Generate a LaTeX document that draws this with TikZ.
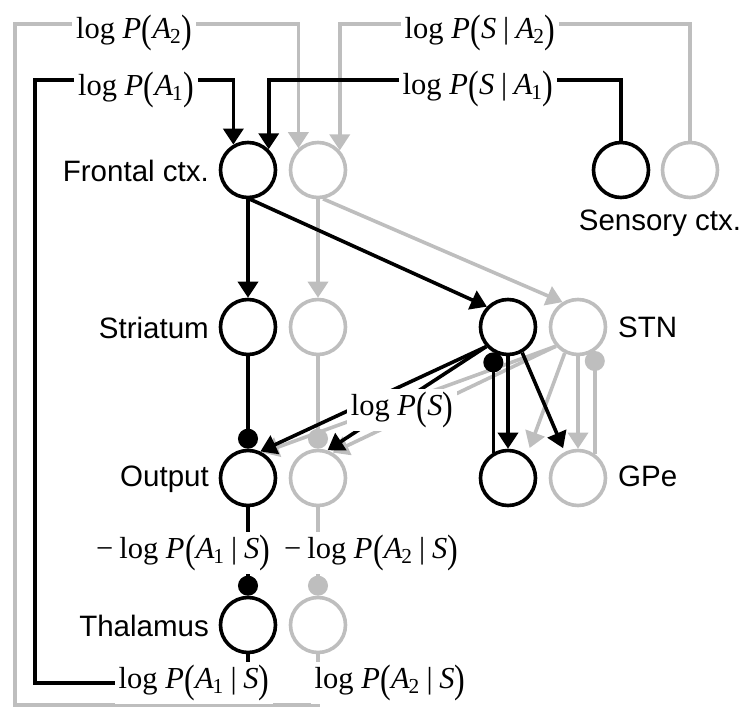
\documentclass[tikz,border=0pt]{standalone}
\usepackage{fontspec}
\usepackage{graphicx}
\setmainfont{Liberation Sans}
\newfontfamily\tim{Liberation Serif}
\usetikzlibrary{arrows.meta}
\definecolor{gry}{RGB}{190,190,190}
\newcommand{\Lpar}{\raisebox{-0.16em}{\scalebox{1.05}[1.3]{(}}}
\newcommand{\Rpar}{\raisebox{-0.16em}{\scalebox{1.05}[1.3]{)}}}
\newcommand{\cbar}{\hspace{0.22em}|\hspace{0.22em}}
\newcommand{\LogP}[1]{log\hspace{0.25em}\textit{P}\kern0.02em\Lpar#1\Rpar}
\newcommand{\Aone}{\textit{A}\kern-0.04em\textsubscript{1}}
\newcommand{\Atwo}{\textit{A}\kern-0.04em\textsubscript{2}}
\begin{document}
\begin{tikzpicture}[x=1pt,y=-1pt,
 neuron/.style={circle,draw,line width=3.6pt,minimum size=55pt,inner sep=0pt},
 bneuron/.style={neuron,draw=black},
 gneuron/.style={neuron,draw=gry},
 lab/.style={font=\fontsize{29.5}{32}\selectfont,inner sep=0pt},
 mlab/.style={font=\fontsize{30.5}{32}\selectfont\tim,fill=white,inner xsep=4pt,inner ysep=3pt,anchor=base},
 conn/.style={line width=3.6pt},
 blk/.style={conn,draw=black},
 gr/.style={conn,draw=gry},
 exc/.style={-{Triangle[length=16pt,width=20pt]}},
 inh/.style={-{Circle[length=20pt]}},
]
\useasboundingbox (0,0) rectangle (742,707);
% neurons
\node[bneuron] (frontB) at (248,170) {};
\node[gneuron] (frontG) at (318,170) {};
\node[bneuron] (senB) at (621,170) {};
\node[gneuron] (senG) at (690,170) {};
\node[bneuron] (striB) at (248,327) {};
\node[gneuron] (striG) at (318,327) {};
\node[bneuron] (stnB) at (508,327) {};
\node[gneuron] (stnG) at (578,327) {};
\node[bneuron] (outB) at (248,478) {};
\node[gneuron] (outG) at (318,478) {};
\node[bneuron] (gpeB) at (508,478) {};
\node[gneuron] (gpeG) at (578,478) {};
\node[bneuron] (thalB) at (248,625) {};
\node[gneuron] (thalG) at (318,625) {};
% area labels
\node[lab,anchor=east] (tFront) at (209,171) {Frontal ctx.};
\node[lab,anchor=east] (tStri) at (209,328) {Striatum};
\node[lab,anchor=east] (tOut) at (209,479) {Output};
\node[lab,anchor=east] (tThal) at (209,626) {Thalamus};
\node[lab,anchor=base west] (tStn) at (618,337) {STN};
\node[lab,anchor=base west] (tGpe) at (618,486) {GPe};
\node[lab,anchor=base] (tSen) at (660,230) {Sensory ctx.};
% bend points
\coordinate (gBL) at (15,705);
\coordinate (gTL) at (15,24);
\coordinate (gTR) at (690,24);
\coordinate (bBL) at (35,683);
\coordinate (bTL) at (35,80);
\coordinate (bTR) at (621,80);
% gray connectors
\draw[gr,exc] (thalG.south) |- (gBL) -- (gTL) -| (frontG.132);
\draw[gr,exc] (senG.north) -- (gTR) -| (frontG.42);
\draw[gr,exc] (frontG.south) -- (striG.north);
\draw[gr,exc] (frontG.-80) -- (stnG.122);
\draw[gr,inh] (striG.south) -- (outG.north);
\draw[gr,inh] (outG.south) -- (thalG.north);
\draw[gr,exc] (stnG.221) -- (outB.60);
\draw[gr,exc] (stnG.221) -- (outG.60);
\draw[gr,exc,shorten >=8pt] (stnG.-117) -- (gpeB.50);
\draw[gr,exc] (stnG.south) -- (gpeG.north);
\draw[gr,inh] (gpeG.55) -- (stnG.-55);
% black connectors
\draw[blk,exc] (thalB.south) |- (bBL) -- (bTL) -| (frontB.120);
\draw[blk,exc] (senB.north) -- (bTR) -| (frontB.45);
\draw[blk,exc] (frontB.south) -- (striB.north);
\draw[blk,exc] (frontB.-86) -- (stnB.136);
\draw[blk,inh] (striB.south) -- (outB.north);
\draw[blk,inh] (outB.south) -- (thalB.north);
\draw[blk,exc] (stnB.222) -- (outB.65);
\draw[blk,exc] (stnB.222) -- (outG.71);
\draw[blk,inh] (gpeB.120) -- (stnB.-120);
\draw[blk,exc] (stnB.south) -- (gpeB.north);
\draw[blk,exc,shorten >=4pt] (stnB.-61) -- (gpeG.117);
% formula labels
\node[mlab] (lA2) at (134,38) {\LogP{\Atwo}};
\node[mlab] (lA1) at (136,95) {\LogP{\Aone}};
\node[mlab] (lSA2) at (480,38) {\LogP{\textit{S}\cbar\Atwo}};
\node[mlab] (lSA1) at (478,94) {\LogP{\textit{S}\cbar\Aone}};
\node[mlab] (lS) at (402,415) {\LogP{\textit{S}}};
\node[mlab] (lmA1) at (183,558) {−\hspace{0.2em}\LogP{\Aone\cbar\textit{S}}};
\node[mlab] (lmA2) at (371,558) {−\hspace{0.2em}\LogP{\Atwo\cbar\textit{S}}};
\node[mlab] (lbA1) at (194,688) {\LogP{\Aone\cbar\textit{S}}};
\node[mlab] (lbA2) at (390,688) {\LogP{\Atwo\cbar\textit{S}}};
\end{tikzpicture}
\end{document}
